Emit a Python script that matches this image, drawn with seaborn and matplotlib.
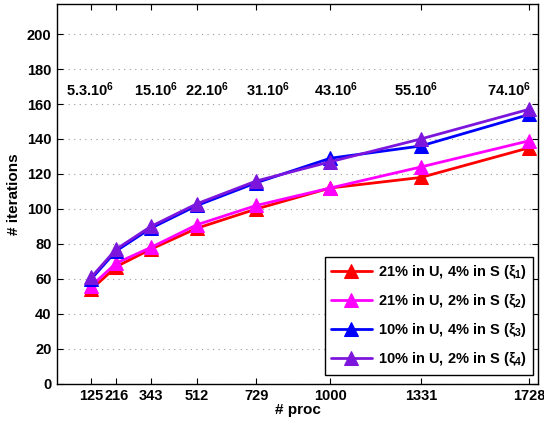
import matplotlib
matplotlib.use("Agg")
import matplotlib.pyplot as plt
import seaborn as sns
import pandas as pd

# ---- data ----
procs = [125, 216, 343, 512, 729, 1000, 1331, 1728]
xi1 = [54, 67, 77, 89, 100, 112, 118, 135]
xi2 = [56, 69, 78, 91, 102, 112, 124, 139]
xi3 = [60, 76, 89, 102, 115, 129, 136, 154]
xi4 = [61, 77, 90, 103, 116, 127, 140, 157]
series_names = [r"21% in U, 4% in S ($\xi_1$)",
                r"21% in U, 2% in S ($\xi_2$)",
                r"10% in U, 4% in S ($\xi_3$)",
                r"10% in U, 2% in S ($\xi_4$)"]
colors = ["#ff0000", "#ff00ff", "#0000ff", "#7d16dc"]
size_labels = [r"5.3.10$^{6}$", r"15.10$^{6}$", r"22.10$^{6}$", r"31.10$^{6}$",
               r"43.10$^{6}$", r"55.10$^{6}$", r"74.10$^{6}$"]
size_label_x = [121, 363, 549, 771, 1019, 1315, 1653]
size_label_y = 168
yticks = list(range(0, 201, 20))

rows = []
for name, vals in zip(series_names, [xi1, xi2, xi3, xi4]):
    for p, v in zip(procs, vals):
        rows.append({"proc": p, "iterations": v, "series": name})
df = pd.DataFrame(rows)

sns.set_style("ticks")
plt.rcParams["font.family"] = ["Liberation Sans", "DejaVu Sans"]
plt.rcParams["font.weight"] = "bold"
plt.rcParams["text.color"] = "black"
plt.rcParams["axes.labelcolor"] = "black"
plt.rcParams["xtick.color"] = "black"
plt.rcParams["ytick.color"] = "black"
plt.rcParams["mathtext.fontset"] = "custom"
plt.rcParams["mathtext.rm"] = "Liberation Sans:bold"
plt.rcParams["mathtext.it"] = "Liberation Sans:italic"
plt.rcParams["mathtext.bf"] = "Liberation Sans:bold"
plt.rcParams["mathtext.default"] = "rm"

fig = plt.figure(figsize=(5.44, 4.28), dpi=100)
ax = fig.add_axes([0.105, 0.103, 0.884, 0.887])

for name, col in zip(series_names, colors):
    sub = df[df["series"] == name]
    sns.lineplot(data=sub, x="proc", y="iterations", ax=ax, color=col,
                 marker="^", markersize=10, markeredgecolor=col, linewidth=2,
                 label=name)

for lab, xx in zip(size_labels, size_label_x):
    ax.text(xx, size_label_y, lab, ha="center", va="center",
            fontsize=10.5, fontweight="bold", color="black")

ax.set_xlim(0, 1760)
ax.set_ylim(0, 217)
ax.set_xticks(procs)
ax.set_xticklabels([str(p) for p in procs], fontsize=10.5, fontweight="bold")
ax.set_yticks(yticks)
ax.set_yticklabels([str(t) for t in yticks], fontsize=10.5, fontweight="bold")
ax.tick_params(direction="in", top=True, right=True, length=4, width=0.8,
               pad=4, colors="black")
ax.yaxis.grid(True, linestyle=(0, (1, 4)), color="#999999", linewidth=0.8)
ax.xaxis.grid(False)
for s in ax.spines.values():
    s.set_linewidth(1.0)
    s.set_color("black")

ax.set_xlabel("# proc", fontsize=11, fontweight="bold", labelpad=0)
ax.set_ylabel("# iterations", fontsize=11, fontweight="bold", labelpad=4)

leg = ax.legend(loc="lower right", bbox_to_anchor=(0.99, 0.024), fontsize=10.5,
                frameon=True, fancybox=False, handlelength=2.8,
                borderpad=0.45, labelspacing=0.75, handletextpad=0.4,
                borderaxespad=0)
leg.get_frame().set_edgecolor("black")
leg.get_frame().set_linewidth(1.0)
leg.get_frame().set_alpha(1)
for t in leg.get_texts():
    t.set_fontweight("bold")
    t.set_color("black")

fig.savefig("out.png", dpi=100)
